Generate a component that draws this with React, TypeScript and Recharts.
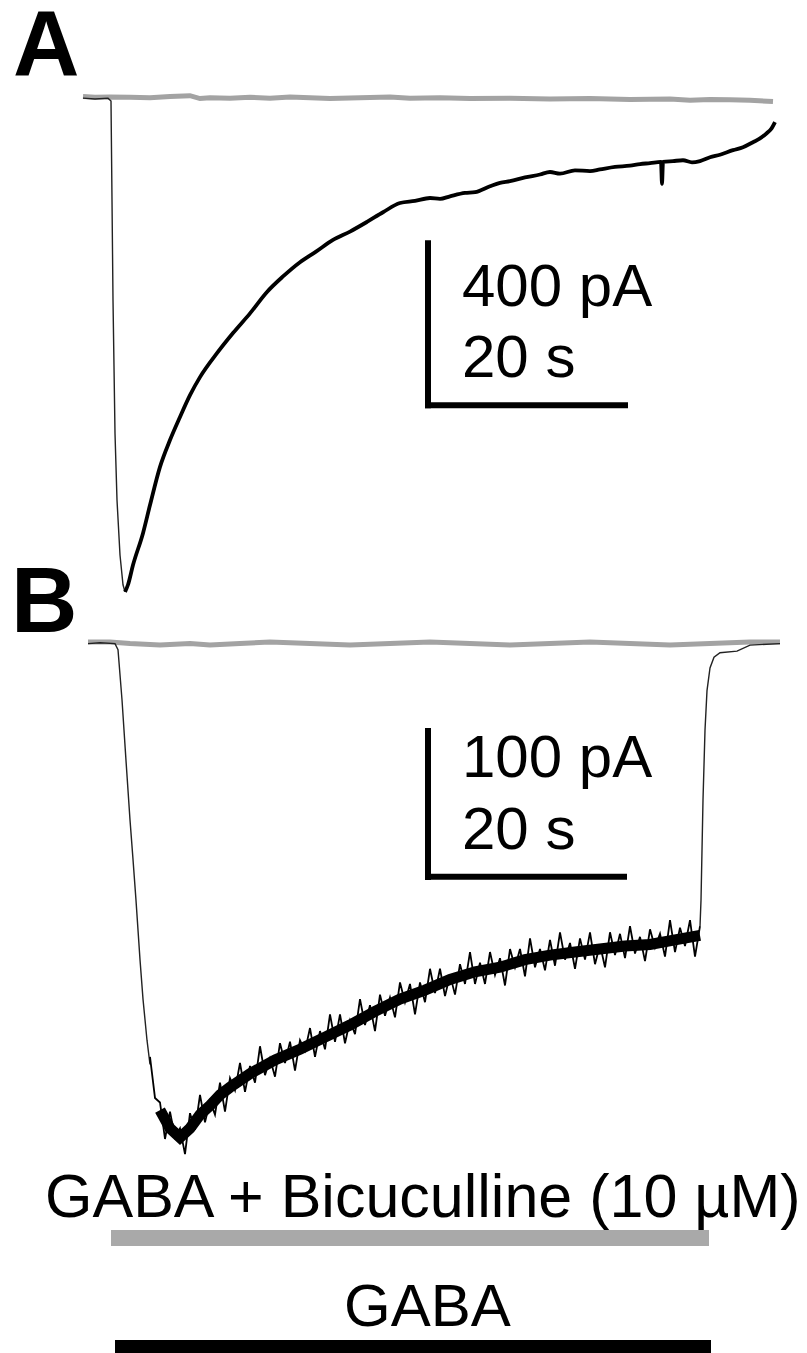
import { LineChart, Line, XAxis, YAxis, ReferenceLine, BarChart, Bar, Cell } from 'recharts'

// time in s (0 = drug onset), current in pA
const T_DOMAIN: [number, number] = [-11, 69.7]

// Panel A: control trace (gray) and GABA response (black)
const controlA = [
  [-2.7, 8], [-1.5, 6], [0, 7], [2, 6], [4, 5], [6, 8], [8, 10], [9, 3], [10, 5], [12, 4],
  [14, 6], [16, 4], [18, 7], [20, 5], [22, 3], [25, 5], [28, 7], [30, 4], [33, 5], [36, 3],
  [40, 4], [44, 2], [48, 3], [52, 1], [56, 2], [58, -1], [60, 1], [62, 0], [64, -1], [66.3, -4],
]
const onsetA = [
  [-2.7, 4], [-1.5, 2], [-0.2, 4], [0.1, -3], [0.2, -239], [0.3, -477], [0.5, -795],
  [0.7, -954], [1.0, -1085], [1.3, -1156], [1.5, -1173],
]
const decayA = [
  [1.5, -1173], [1.8, -1156], [2.3, -1109], [3.3, -1033], [4.0, -966], [5.0, -875],
  [6.0, -811], [7.0, -756], [8.0, -704], [9.0, -661], [10.7, -604], [12.3, -556],
  [14.0, -509], [15.7, -458], [17.3, -421], [19.0, -387], [20.6, -362], [22.3, -334],
  [24, -314], [25.7, -291], [27.3, -268], [29, -246], [30.5, -241], [32, -234], [33, -236],
  [34, -230], [35.5, -222], [36.5, -220], [38, -206], [39, -198], [40, -194], [41.5, -185],
  [43, -178], [44, -172], [45, -176], [46.5, -168], [48, -170], [49, -166], [50.5, -160],
  [52, -157], [53, -153], [54, -151], [55.1, -148], [55.2, -200], [55.3, -148], [56.3, -146],
  [57.3, -144], [58.2, -149], [59, -146], [60, -137], [61, -131], [62.3, -120], [63.3, -113],
  [64.3, -101], [65, -92], [65.7, -79], [66.1, -70], [66.5, -53],
]

// Panel B: GABA + bicuculline
const controlB = [
  [-2.2, 1], [0, 1], [2, 0], [5, -1], [8, 0], [10, -1], [13, 0], [16, 1], [20, 0], [24, -1],
  [28, 0], [32, 1], [36, 0], [40, -1], [44, 0], [48, 1], [52, 0], [56, -1], [60, 0], [64, 1], [67, 1],
]
const onsetB = [
  [-2.2, 0], [-1, 0.5], [0.5, 0], [0.8, -4], [1.2, -37], [1.6, -77], [2.0, -116], [2.3, -142],
  [2.6, -169], [3.0, -208], [3.3, -234], [3.7, -261], [4.0, -277],
]
const coreB = [
  [5, -307], [6, -319], [7, -325], [8, -319], [9, -310], [10, -304], [11, -297],
  [12, -292], [14, -283], [16.5, -274], [19, -267], [21.5, -259], [24, -251], [26.5, -242],
  [29, -234], [31.5, -228], [34, -221], [36.5, -216], [39, -213], [41.5, -208], [44, -205],
  [46.5, -203], [49, -201], [51.5, -199], [54, -198], [56.5, -195], [59, -192],
]
const noisyB = [
  [4.0, -272], [4.5, -299], [5.0, -302], [5.5, -326], [6.0, -308], [6.5, -325], [7.0, -319],
  [7.5, -336], [8.0, -309], [8.5, -320], [9.0, -297], [9.5, -315], [10.0, -301], [10.5, -310],
  [11.0, -289], [11.5, -308], [12.0, -286], [12.5, -294], [13.0, -276], [13.5, -295],
  [14.0, -278], [14.5, -289], [15.0, -265], [15.5, -284], [16.0, -273], [16.5, -285],
  [17.0, -263], [17.5, -276], [18.0, -262], [18.5, -281], [19.0, -261], [19.5, -268],
  [20.0, -253], [20.5, -272], [21.0, -255], [21.5, -267], [22.0, -244], [22.5, -262],
  [23.0, -244], [23.5, -263], [24.0, -248], [24.5, -257], [25.0, -234], [25.5, -251],
  [26.0, -238], [26.5, -255], [27.0, -231], [27.5, -245], [28.0, -233], [28.5, -246],
  [29.0, -223], [29.5, -236], [30.0, -224], [30.5, -244], [31.0, -223], [31.5, -236],
  [32.0, -214], [32.5, -230], [33.0, -214], [33.5, -232], [34.0, -218], [34.5, -231],
  [35.0, -211], [35.5, -224], [36.0, -203], [36.5, -224], [37.0, -210], [37.5, -224],
  [38.0, -203], [38.5, -218], [39.0, -207], [39.5, -225], [40.0, -201], [40.5, -213],
  [41.0, -201], [41.5, -219], [42.0, -194], [42.5, -213], [43.0, -201], [43.5, -215],
  [44.0, -195], [44.5, -212], [45.0, -190], [45.5, -208], [46.0, -197], [46.5, -214],
  [47.0, -194], [47.5, -208], [48.0, -190], [48.5, -211], [49.0, -198], [49.5, -213],
  [50.0, -190], [50.5, -205], [51.0, -191], [51.5, -207], [52.0, -186], [52.5, -204],
  [53.0, -193], [53.5, -209], [54.0, -188], [54.5, -200], [55.0, -191], [55.5, -206],
  [56.0, -182], [56.5, -203], [57.0, -187], [57.5, -199], [58.0, -182], [58.5, -206], [59.0, -186],
]
const washB = [
  [59.0, -186], [59.1, -169], [59.3, -103], [59.5, -57], [59.7, -31], [60.0, -16], [60.4, -9],
  [61, -6], [62.7, -5], [64, -1], [67, 0],
]

// scale bars: [t, current]
const scaleA = { t: 31.8, top: -335, bottom: -735, tEnd: 51.8, tStart: 31.5, base: -728 }
const scaleB = { t: 31.8, top: -55.5, bottom: -155.6, tEnd: 51.7, tStart: 31.5, base: -153.5 }

// drug application bars
const applications = [
  { name: 'GABA + Bicuculline (10 µM)', range: [0.1, 59.9], color: '#a9a9a9' },
  { name: 'GABA', range: [0.5, 60.1], color: '#000000' },
]

const toRows = (pts: number[][]) => pts.map(([t, i]) => ({ t, i }))

const GRAY = '#a3a3a3'
const FONT = '"Liberation Sans", Arial, sans-serif'

function Trace({ top, height, yDomain, gray, thin, main, noisy, tail, scale }: any) {
  return (
    <div style={{ position: 'absolute', left: 0, top }}>
      <LineChart width={807} height={height} margin={{ top: 0, right: 0, bottom: 0, left: 0 }}>
        <XAxis dataKey="t" type="number" domain={T_DOMAIN} allowDataOverflow hide />
        <YAxis dataKey="i" type="number" domain={yDomain} allowDataOverflow hide />
        <Line data={toRows(gray)} dataKey="i" type="linear" stroke={GRAY} strokeWidth={5} dot={false} activeDot={false} isAnimationActive={false} />
        <Line data={toRows(thin)} dataKey="i" type="linear" stroke="#222" strokeWidth={1.4} dot={false} activeDot={false} isAnimationActive={false} />
        <Line data={toRows(main)} dataKey="i" type={noisy ? 'linear' : 'monotone'} stroke="#000" strokeWidth={noisy ? 11 : 3.8} dot={false} activeDot={false} isAnimationActive={false} />
        {noisy && (
          <Line data={toRows(noisy)} dataKey="i" type="linear" stroke="#000" strokeWidth={1.8} dot={false} activeDot={false} isAnimationActive={false} />
        )}
        {tail && (
          <Line data={toRows(tail)} dataKey="i" type="linear" stroke="#222" strokeWidth={1.4} dot={false} activeDot={false} isAnimationActive={false} />
        )}
        <ReferenceLine segment={[{ x: scale.t, y: scale.top }, { x: scale.t, y: scale.bottom }]} stroke="#000" strokeWidth={6} />
        <ReferenceLine segment={[{ x: scale.tStart, y: scale.base }, { x: scale.tEnd, y: scale.base }]} stroke="#000" strokeWidth={6} />
      </LineChart>
    </div>
  )
}

// baseline positions of the texts
const labels = [
  { text: 'A', x: 13, y: 76, size: 92, bold: true },
  { text: 'B', x: 11, y: 633, size: 92, bold: true },
  { text: '400 pA', x: 462, y: 307, size: 60 },
  { text: '20 s', x: 462, y: 378, size: 60 },
  { text: '100 pA', x: 462, y: 778, size: 60 },
  { text: '20 s', x: 462, y: 850, size: 60 },
  { text: 'GABA + Bicuculline (10 µM)', x: 45, y: 1218, size: 61 },
  { text: 'GABA', x: 344, y: 1327, size: 60 },
]

export default function App() {
  return (
    <div style={{ position: 'absolute', left: 0, top: 0, width: 807, height: 1353, overflow: 'hidden', background: '#fff' }}>
      <Trace top={0} height={620} yDomain={[-1240, 238]} gray={controlA} thin={onsetA} main={decayA} scale={scaleA} />
      <Trace top={560} height={620} yDomain={[-353, 55]} gray={controlB} thin={onsetB} main={coreB} noisy={noisyB} tail={washB} scale={scaleB} />
      <div style={{ position: 'absolute', left: 0, top: 1183 }}>
        <BarChart width={807} height={220} layout="vertical" data={applications} margin={{ top: 0, right: 0, bottom: 0, left: 0 }}>
          <XAxis type="number" domain={T_DOMAIN} allowDataOverflow hide />
          <YAxis type="category" dataKey="name" hide />
          <Bar dataKey="range" barSize={16} isAnimationActive={false}>
            {applications.map((a) => (
              <Cell key={a.name} fill={a.color} />
            ))}
          </Bar>
        </BarChart>
      </div>
      {labels.map((l, k) => (
        <div
          key={k}
          style={{
            position: 'absolute',
            left: l.x,
            top: l.y - 0.7465 * l.size,
            fontFamily: FONT,
            fontSize: l.size,
            lineHeight: `${0.8 * l.size}px`,
            fontWeight: l.bold ? 700 : 400,
            whiteSpace: 'nowrap',
            color: '#000',
          }}
        >
          {l.text}
        </div>
      ))}
    </div>
  )
}
